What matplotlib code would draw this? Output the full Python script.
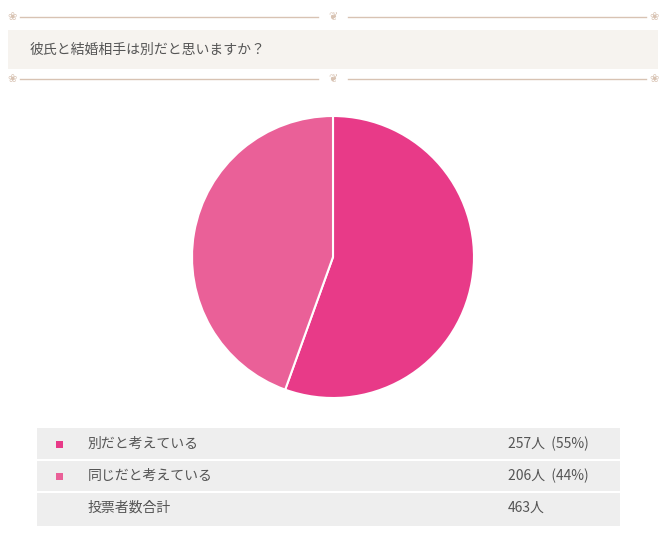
import matplotlib
matplotlib.use("Agg")
import matplotlib.pyplot as plt
from matplotlib.patches import Rectangle

plt.rcParams['font.family'] = ['Noto Sans CJK JP', 'DejaVu Sans']

title = "彼氏と結婚相手は別だと思いますか？"
labels = ["別だと考えている", "同じだと考えている"]
counts = [257, 206]
percents = [55, 44]
colors = ["#E83A88", "#EA6098"]
total_label = "投票者数合計"
total = 463

W, H = 666, 538
fig = plt.figure(figsize=(W/100, H/100), dpi=100)
bg = fig.add_axes([0, 0, 1, 1])
bg.set_xlim(0, W); bg.set_ylim(H, 0); bg.axis('off')

deco = "#D8C3B3"
for y in (17, 79):
    bg.plot([20, 318], [y, y], color=deco, lw=1)
    bg.plot([348, 646], [y, y], color=deco, lw=1)
    for x in (12, 333, 654):
        bg.text(x, y, "❦" if x == 333 else "❀", color=deco, fontsize=8, ha='center', va='center',
                family=['DejaVu Sans'])
bg.add_patch(Rectangle((8, 30), 650, 39, color="#F6F3EF", lw=0))
bg.text(30, 49.5, title, fontsize=10, color="#555555", va='center')

# table
bg.add_patch(Rectangle((37, 428), 583, 98, color="#EEEEEE", lw=0))
for y in (460, 492):
    bg.plot([37, 620], [y, y], color="white", lw=1.5)
rows_y = [444, 476, 508]
for i in range(2):
    bg.add_patch(Rectangle((56, rows_y[i]-3.5), 7, 7, color=colors[i], lw=0))
    bg.text(88, rows_y[i], labels[i], fontsize=10, color="#555555", va='center')
    bg.text(508, rows_y[i], f"{counts[i]}人  ({percents[i]}%)", fontsize=10, color="#555555", va='center')
bg.text(88, rows_y[2], total_label, fontsize=10, color="#555555", va='center')
bg.text(508, rows_y[2], f"{total}人", fontsize=10, color="#555555", va='center')

# pie
cx, cy, r = 333, 257, 141
ax = fig.add_axes([(cx-r)/W, 1-(cy+r)/H, 2*r/W, 2*r/H])
ax.pie(counts, colors=colors, startangle=90, counterclock=False, radius=1,
       wedgeprops=dict(edgecolor='white', linewidth=1.5))
ax.set_xlim(-1, 1); ax.set_ylim(-1, 1)
ax.set_aspect('equal'); ax.axis('off')

fig.savefig("out.png", dpi=100)
